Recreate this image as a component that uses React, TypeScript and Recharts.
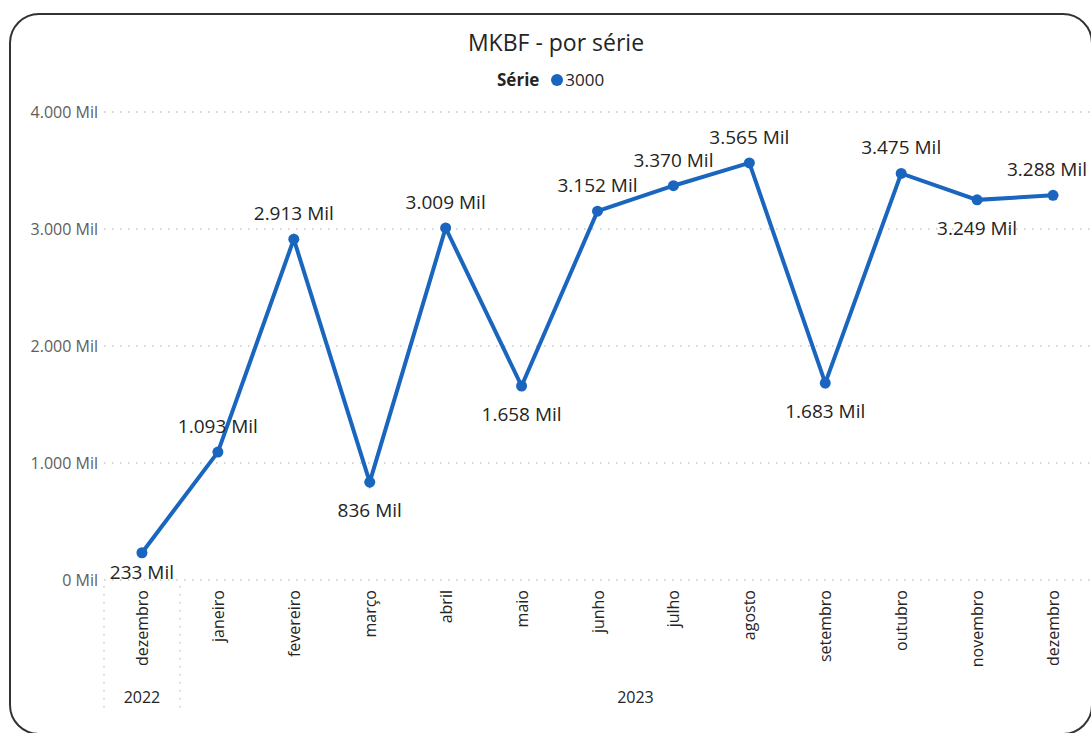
import { LineChart, Line, XAxis, YAxis, CartesianGrid, LabelList } from "recharts"

const months = [
  "dezembro", "janeiro", "fevereiro", "março", "abril", "maio", "junho",
  "julho", "agosto", "setembro", "outubro", "novembro", "dezembro",
]
const years = [
  "2022", "2023", "2023", "2023", "2023", "2023", "2023",
  "2023", "2023", "2023", "2023", "2023", "2023",
]
const values = [233, 1093, 2913, 836, 3009, 1658, 3152, 3370, 3565, 1683, 3475, 3249, 3288]
const yTicks = [0, 1000, 2000, 3000, 4000]
const seriesName = "3000"

const W = 1091
const H = 733
const PLOT_LEFT = 104
const PLOT_TOP = 112
const X_AXIS_H = 153
const FONT = "'Open Sans', 'Noto Sans', sans-serif"
const LINE_COLOR = "#1A66BE"
const TEXT = "#252423"
const AXIS_TEXT = "#605E5C"

const data = months.map((m, i) => ({ id: `${years[i]}-${i}`, month: m, year: years[i], value: values[i] }))

const fmt = (v: number) => v.toString().replace(/\B(?=(\d{3})+(?!\d))/g, ".") + " Mil"

const bandW = (W - PLOT_LEFT) / months.length

function XTick(props: any) {
  const { x, y, index } = props
  const row = data[index]
  if (!row) return null
  const out: any[] = [
    <text
      key="m"
      x={x}
      y={y + 2}
      transform={`rotate(-90, ${x}, ${y + 2})`}
      textAnchor="end"
      dominantBaseline="central"
      fontSize={16}
      fontFamily={FONT}
      fill={TEXT}
    >
      {row.month}
    </text>,
  ]
  // year group label + separators
  const groupIdx = data.map((d, i) => (d.year === row.year ? i : -1)).filter((i) => i >= 0)
  const first = groupIdx[0]
  const last = groupIdx[groupIdx.length - 1]
  if (index === first) {
    const cx = x + ((last - first) * bandW) / 2
    out.push(
      <text key="y" x={cx} y={697} textAnchor="middle" dominantBaseline="central" fontSize={16} fontFamily={FONT} fill={TEXT}>
        {row.year}
      </text>
    )
    if (index === 0) {
      out.push(
        <line key="s1" x1={x - bandW / 2} x2={x - bandW / 2} y1={586} y2={712} stroke="#c8c8c8" strokeWidth={1.5} strokeDasharray="1.5 6.5" />,
        <line key="s2" x1={x + bandW / 2} x2={x + bandW / 2} y1={586} y2={712} stroke="#c8c8c8" strokeWidth={1.5} strokeDasharray="1.5 6.5" />
      )
    }
  }
  return <g>{out}</g>
}

function PointLabel(props: any) {
  const { x, y, index } = props
  const v = values[index]
  const prev = index > 0 ? values[index - 1] : Infinity
  const next = index < values.length - 1 ? values[index + 1] : Infinity
  const below = v < prev && v < next
  let ty = below ? y + 28 : y - 26
  if (below) ty = Math.min(ty, H - X_AXIS_H - 8)
  const cx = Math.min(x, W - 44)
  return (
    <text x={cx} y={ty} textAnchor="middle" dominantBaseline="central" fontSize={19} fontFamily={FONT} fill={TEXT}>
      {fmt(v)}
    </text>
  )
}

export default function App() {
  return (
    <div style={{ position: "fixed", left: 0, top: 0, width: W, height: H, overflow: "hidden", background: "#fff", fontFamily: FONT }}>
      <div
        style={{
          position: "absolute",
          left: 9,
          top: 13,
          width: 1084,
          height: 722,
          border: "2px solid #333",
          borderRadius: 30,
          boxSizing: "border-box",
          pointerEvents: "none",
        }}
      />
      <div style={{ position: "absolute", left: 356, width: 400, top: 27, textAlign: "center", fontSize: 23, color: TEXT, lineHeight: "30px" }}>
        MKBF - por série
      </div>
      <div style={{ position: "absolute", left: 497, top: 70, display: "flex", alignItems: "center", fontSize: 17, color: TEXT, lineHeight: "20px" }}>
        <span style={{ fontWeight: 700 }}>Série</span>
        <span style={{ display: "inline-block", width: 12, height: 12, borderRadius: 6, background: LINE_COLOR, marginLeft: 12, marginRight: 2 }} />
        <span>{seriesName}</span>
      </div>
      <LineChart width={W} height={H} data={data} margin={{ top: PLOT_TOP, right: 0, left: 0, bottom: 0 }}>
        <CartesianGrid vertical={false} stroke="#c8c8c8" strokeWidth={1.5} strokeDasharray="1.5 6.5" />
        <XAxis
          dataKey="id"
          height={X_AXIS_H}
          axisLine={false}
          tickLine={false}
          interval={0}
          padding={{ left: bandW / 2, right: bandW / 2 }}
          tick={<XTick />}
        />
        <YAxis
          width={PLOT_LEFT}
          domain={[0, 4000]}
          ticks={yTicks}
          axisLine={false}
          tickLine={false}
          tickSize={0}
          tickMargin={6}
          tickFormatter={fmt}
          tick={{ fontSize: 16, fontFamily: FONT, fill: AXIS_TEXT }}
        />
        <Line
          type="linear"
          dataKey="value"
          stroke={LINE_COLOR}
          strokeWidth={4}
          dot={{ r: 5.5, fill: LINE_COLOR, stroke: LINE_COLOR, strokeWidth: 0 }}
          activeDot={false}
          isAnimationActive={false}
        >
          <LabelList dataKey="value" content={<PointLabel />} />
        </Line>
      </LineChart>
    </div>
  )
}
